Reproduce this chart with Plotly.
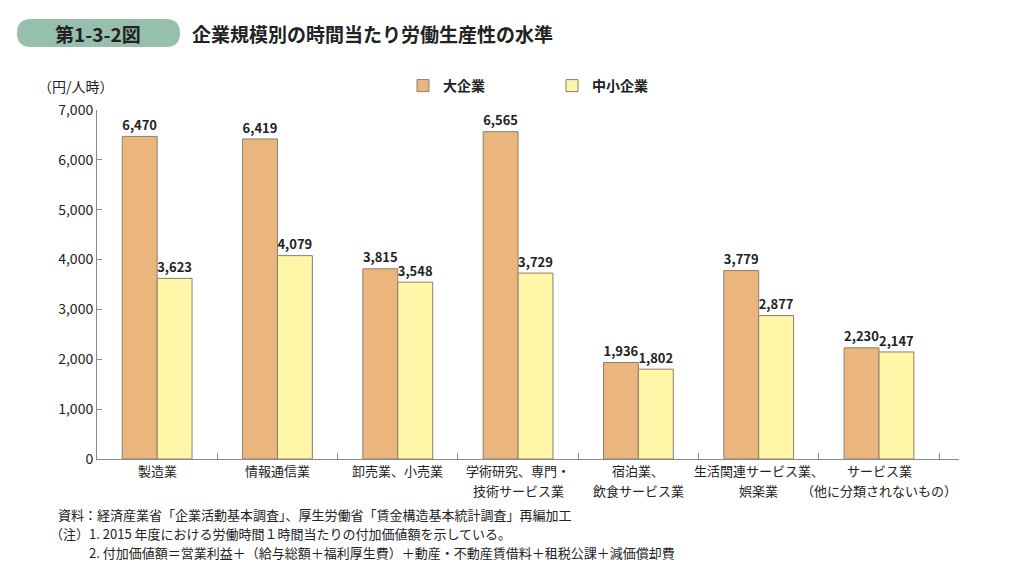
import plotly.graph_objects as go

categories = ["製造業", "情報通信業", "卸売業、小売業", "学術研究、専門・<br>技術サービス業",
              "宿泊業、<br>飲食サービス業", "生活関連サービス業、<br>娯楽業", "サービス業<br>（他に分類されないもの）"]
large = [6470, 6419, 3815, 6565, 1936, 3779, 2230]
sme = [3623, 4079, 3548, 3729, 1802, 2877, 2147]
series_names = ["大企業", "中小企業"]
yticks = [0, 1000, 2000, 3000, 4000, 5000, 6000, 7000]
notes = [
    ("資料：経済産業省「企業活動基本調査」、厚生労働省「賃金構造基本統計調査」再編加工", 56),
    ("（注）1. 2015 年度における労働時間１時間当たりの付加価値額を示している。", 48),
    ("2. 付加価値額＝営業利益＋（給与総額＋福利厚生費）＋動産・不動産賃借料＋租税公課＋減価償却費", 87),
]

FONT = "Noto Sans CJK JP"
W, H = 1024, 570
L, R, T, B = 97, 65, 110, 111

fig = go.Figure()
for name, vals, col in [(series_names[0], large, "#EBB67E"), (series_names[1], sme, "#FFF6A8")]:
    fig.add_trace(go.Bar(
        x=categories, y=vals, name=name,
        marker=dict(color=col, line=dict(color="#8E7E6E", width=1)),
        text=[f"{v:,}" for v in vals], textposition="outside",
        textfont=dict(family=FONT, size=15, color="#222222", weight="bold"),
        cliponaxis=False,
    ))

fig.update_layout(
    width=W, height=H,
    margin=dict(l=L, r=R, t=T, b=B, autoexpand=False),
    paper_bgcolor="white", plot_bgcolor="white",
    barmode="group", bargap=0.42, bargroupgap=0,
    font=dict(family=FONT, size=13, color="#333333"),
    showlegend=True,
    legend=dict(orientation="h", x=(403 - L) / (W - L - R), xanchor="left",
                y=1 + (T - 70) / (H - T - B), yanchor="top",
                font=dict(family=FONT, size=14, color="#222222", weight="bold"),
                entrywidth=104, entrywidthmode="pixels",
                itemwidth=30, traceorder="normal", bgcolor="rgba(0,0,0,0)"),
)

fig.update_yaxes(
    range=[0, 7000], tickvals=yticks, ticktext=[f"{v:,}" for v in yticks],
    showgrid=False, zeroline=False, automargin=False,
    showline=True, linecolor="#8A8A8A", linewidth=1,
    ticks="inside", ticklen=5, tickcolor="#8A8A8A",
    tickfont=dict(family=FONT, size=14, color="#222222"),
)
fig.update_xaxes(
    showline=True, linecolor="#8A8A8A", linewidth=1, automargin=False,
    ticks="inside", ticklen=6, tickcolor="#8A8A8A", tickson="boundaries",
    showticklabels=False, showgrid=False,
)

def px_x(x):
    return (x - L) / (W - L - R)
def px_y(y):
    return (H - B - y) / (H - T - B)

# category labels (one annotation per line, placed on the category axis)
for cat in categories:
    for i, line in enumerate(cat.split("<br>")):
        fig.add_annotation(text=line, xref="x", x=cat, yref="paper", y=px_y(470 + 20 * i),
                           xanchor="center", yanchor="middle", showarrow=False,
                           font=dict(family=FONT, size=13, color="#222222"))

# Title pill
x0, x1, y0, y1, r = 17, 180, 19, 47, 14
path = (f"M {px_x(x0 + r)} {px_y(y0)} L {px_x(x1 - r)} {px_y(y0)} "
        f"Q {px_x(x1)} {px_y(y0)} {px_x(x1)} {px_y((y0 + y1) / 2)} "
        f"Q {px_x(x1)} {px_y(y1)} {px_x(x1 - r)} {px_y(y1)} "
        f"L {px_x(x0 + r)} {px_y(y1)} "
        f"Q {px_x(x0)} {px_y(y1)} {px_x(x0)} {px_y((y0 + y1) / 2)} "
        f"Q {px_x(x0)} {px_y(y0)} {px_x(x0 + r)} {px_y(y0)} Z")
fig.add_shape(type="path", xref="paper", yref="paper", path=path,
              fillcolor="#96BFAE", line=dict(width=0), layer="below")

def ann(text, x, y, size=13, anchor="left", bold=False, color="#222222"):
    fig.add_annotation(text=text, xref="paper", yref="paper", x=px_x(x), y=px_y(y),
                       xanchor=anchor, yanchor="middle", showarrow=False, align="left",
                       font=dict(family=FONT, size=size, color=color,
                                 weight="bold" if bold else "normal"))

ann("第1-3-2図", 98, 33, size=19, anchor="center", bold=True, color="#222222")
ann("企業規模別の時間当たり労働生産性の水準", 190, 33, size=19, bold=True, color="#222222")
ann("（円/人時）", 36, 86, size=14)
for i, (txt, x) in enumerate(notes):
    ann(txt, x, 514 + 19 * i, size=13)

fig.write_html("out.html")
